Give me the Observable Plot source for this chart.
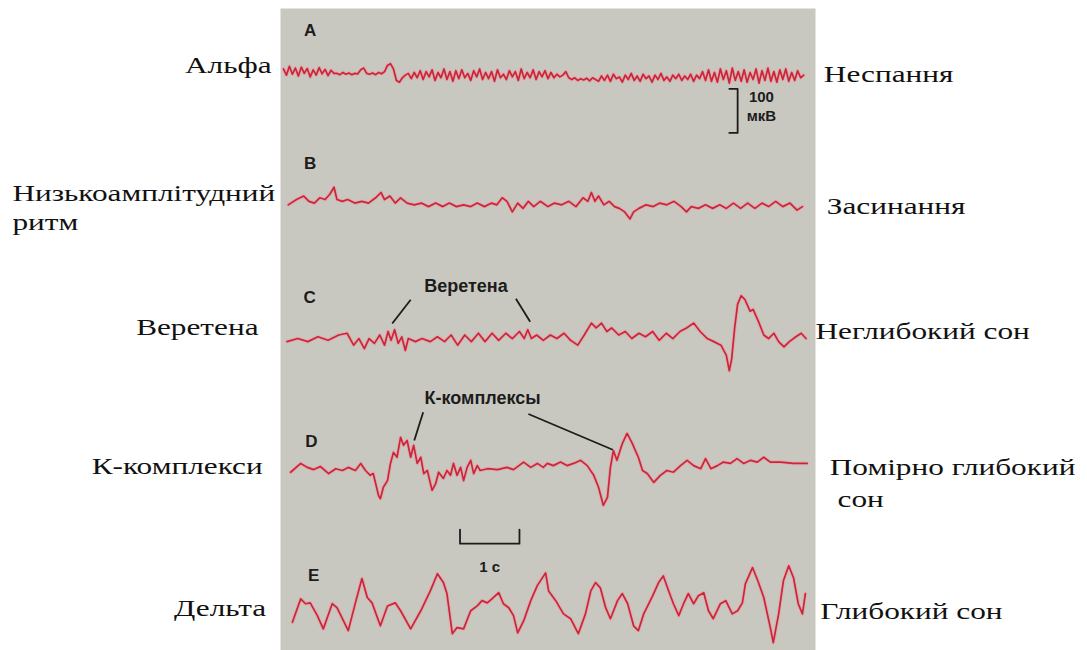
<!DOCTYPE html>
<html><head><meta charset="utf-8">
<script src="https://cdn.jsdelivr.net/npm/d3@7"></script>
<script src="https://cdn.jsdelivr.net/npm/@observablehq/plot@0.6"></script>
<style>
html,body{margin:0;padding:0;background:#fff;}
#chart svg{display:block}
</style></head><body><div id="chart"></div>
<script>
// ---- data ----
const stages = ["A", "B", "C", "D", "E"];
const leftLabels = ["Альфа", "Низькоамплітудний\nритм", "Веретена", "К-комплекси", "Дельта"];
const rightLabels = ["Неспання", "Засинання", "Неглибокий сон", "Помірно глибокий\n\u00a0сон", "Глибокий сон"];
const annotations = ["Веретена", "К-комплексы"];
const ampScaleLabel = ["100", "мкВ"];
const timeScaleLabel = "1 с";
const ampScaleUV = 100;   // µV
const timeScaleS = 1;     // s

// A: alpha rhythm, sampled every 0.05 s from t = 0.05 s (µV)
const alphaStart = 0.05, alphaStep = 0.05;
const alphaUV = [
  8,-6,14,-4,10,-8,12,-2,9,-10,6,-6,11,-3,7,-7,5,-2,
  -2,-5,0,-4,-1,-5,-2,-3,6,10,-2,-4,-1,-5,0,-3,2,
  16,20,8,-18,-22,-12,-6,
  -2,-14,0,-12,4,-16,2,-10,6,-18,0,-12,8,-16,2,-20,4,-14,6,-12,
  -2,-18,4,-10,8,-16,0,-14,2,-20,6,-12,-4,-16,4,-10,2,-18,8,-14,
  0,-12,6,-16,2,-10,4,-14,0,-12,-4,-10,
  -6,2,-12,-16,-12,-18,-14,-17,-13,-19,-12,-16,-20,
  -8,-18,-6,-20,-4,-14,-10,-22,-6,-16,-2,-18,-8,-20,-4,-14,-8,-22,-6,-16,
  -2,-18,-10,-20,-6,-14,-4,-18,-8,-16,-4,-20,-6,-14,
  2,-18,6,-20,0,-22,8,-16,4,-24,10,-18,2,-20,6,-22,0,-16,8,-24,
  4,-18,10,-20,2,-22,6,-16,8,-20,0,-18,4,-12,-6
];
// B: low-amplitude rhythm [t (s), µV]
const traceB = [[0.13,-4],[0.27,8],[0.39,16],[0.48,4],[0.57,0],[0.66,12],[0.75,8],[0.83,20],[0.90,36],[0.95,8],[1.04,4],[1.13,8],[1.25,0],[1.37,4],[1.48,0],[1.60,12],[1.69,24],[1.75,8],[1.84,16],[1.93,0],[2.02,12],[2.13,0],[2.25,-4],[2.37,0],[2.49,-8],[2.61,0],[2.73,-8],[2.84,0],[2.96,-8],[3.08,-4],[3.20,-8],[3.31,0],[3.43,-8],[3.55,0],[3.64,-4],[3.73,12],[3.81,4],[3.90,-20],[3.99,0],[4.08,-12],[4.17,4],[4.26,-8],[4.37,4],[4.50,-8],[4.61,0],[4.73,-4],[4.85,4],[4.97,-8],[5.09,12],[5.17,4],[5.23,24],[5.29,4],[5.35,16],[5.44,-4],[5.53,4],[5.62,-8],[5.70,-12],[5.79,-20],[5.88,-36],[5.94,-20],[6.03,-12],[6.15,-4],[6.27,-8],[6.38,0],[6.50,-4],[6.62,4],[6.74,-8],[6.83,-20],[6.91,-8],[7.03,-12],[7.15,-4],[7.27,-12],[7.39,-4],[7.50,-12],[7.62,0],[7.74,-12],[7.86,0],[7.98,-12],[8.10,0],[8.21,-8],[8.33,4],[8.45,-8],[8.57,0],[8.69,-16],[8.78,-8]];
// C: spindles
const traceC = [[0.11,-8],[0.29,-1],[0.46,-8],[0.63,3],[0.80,-5],[0.98,7],[1.12,11],[1.23,-16],[1.32,-1],[1.41,-24],[1.49,-1],[1.58,-12],[1.67,7],[1.75,-16],[1.81,15],[1.86,-5],[1.92,19],[1.98,-12],[2.04,3],[2.10,-28],[2.15,-1],[2.27,-8],[2.38,-1],[2.52,-8],[2.64,3],[2.76,-8],[2.87,7],[2.98,-16],[3.10,7],[3.21,-8],[3.33,11],[3.44,-8],[3.56,11],[3.67,-5],[3.79,11],[3.90,-1],[4.02,15],[4.10,-1],[4.16,19],[4.22,-1],[4.31,7],[4.42,-5],[4.54,7],[4.65,-1],[4.77,11],[4.88,-5],[5.00,-16],[5.11,7],[5.23,34],[5.31,23],[5.40,34],[5.49,15],[5.57,23],[5.69,7],[5.80,15],[5.91,-1],[6.03,11],[6.14,3],[6.26,15],[6.37,-5],[6.49,11],[6.60,-1],[6.72,15],[6.83,23],[6.95,34],[7.06,15],[7.18,-1],[7.29,-8],[7.41,-16],[7.50,-39],[7.55,-74],[7.59,-47],[7.64,23],[7.69,77],[7.75,96],[7.81,88],[7.90,61],[7.95,65],[8.04,38],[8.13,7],[8.21,-1],[8.30,11],[8.38,-8],[8.47,-20],[8.56,-8],[8.67,3],[8.76,11],[8.84,-1]];
// D: K-complexes
const traceD = [[0.17,-13],[0.34,7],[0.45,-2],[0.56,-7],[0.67,0],[0.81,-16],[0.93,-5],[1.04,-9],[1.14,-2],[1.26,-9],[1.35,7],[1.43,-9],[1.51,-20],[1.56,-16],[1.65,-66],[1.68,-73],[1.73,-47],[1.80,-32],[1.85,7],[1.90,32],[1.96,21],[2.02,66],[2.07,48],[2.13,59],[2.19,21],[2.24,48],[2.30,7],[2.36,21],[2.41,-16],[2.47,-9],[2.55,-54],[2.61,-39],[2.66,-13],[2.74,-27],[2.80,-9],[2.86,-20],[2.91,7],[2.97,-20],[3.03,-2],[3.08,-32],[3.14,-2],[3.20,14],[3.25,-16],[3.31,2],[3.36,-9],[3.48,-5],[3.65,-7],[3.81,-2],[3.92,-7],[4.09,10],[4.21,-2],[4.32,7],[4.42,-2],[4.49,7],[4.59,2],[4.71,10],[4.82,2],[4.93,7],[5.05,14],[5.16,2],[5.27,-20],[5.35,-47],[5.43,-88],[5.50,-70],[5.55,-2],[5.60,36],[5.66,14],[5.75,52],[5.83,75],[5.92,52],[5.97,36],[6.02,21],[6.09,-9],[6.17,-16],[6.28,-36],[6.39,-20],[6.50,-9],[6.61,-13],[6.73,2],[6.84,14],[6.95,2],[7.07,-5],[7.15,18],[7.24,-5],[7.35,2],[7.45,10],[7.57,7],[7.68,18],[7.79,7],[7.91,14],[8.02,10],[8.13,21],[8.24,10],[8.41,10],[8.63,7],[8.86,7]];
// E: delta waves
const traceE = [[0.20,-42],[0.34,11],[0.42,0],[0.50,2],[0.62,-27],[0.72,-57],[0.87,0],[0.95,-9],[1.06,-39],[1.14,-61],[1.26,2],[1.37,57],[1.46,14],[1.54,2],[1.68,-50],[1.80,-5],[1.93,2],[2.02,-16],[2.19,-57],[2.36,-16],[2.52,29],[2.64,68],[2.74,48],[2.80,23],[2.89,-68],[2.97,-54],[3.08,-57],[3.20,-16],[3.31,-5],[3.39,7],[3.48,2],[3.58,14],[3.67,25],[3.75,0],[3.84,-9],[3.92,-27],[3.99,-66],[4.09,-39],[4.21,7],[4.32,41],[4.46,70],[4.51,29],[4.63,7],[4.76,-23],[4.88,-34],[5.01,-68],[5.13,-23],[5.22,29],[5.30,48],[5.38,36],[5.47,-9],[5.55,-34],[5.67,7],[5.75,23],[5.84,0],[5.94,-50],[6.02,-61],[6.11,-23],[6.26,18],[6.36,48],[6.44,63],[6.53,29],[6.61,0],[6.70,-27],[6.78,0],[6.86,23],[6.95,0],[7.03,18],[7.12,25],[7.20,-16],[7.28,-34],[7.40,0],[7.49,7],[7.60,-23],[7.69,-16],[7.77,2],[7.82,45],[7.94,82],[8.03,52],[8.13,14],[8.24,-54],[8.29,-88],[8.38,-23],[8.46,52],[8.55,86],[8.63,59],[8.71,0],[8.78,-23],[8.83,23]];

// ---- layout (vertical stacking of channels in µV, label placement) ----
const rowOffset = {A: 1310, B: 1014, C: 708, D: 417, E: 106};
const traces = [];
alphaUV.forEach((v, i) => traces.push({row: "A", t: alphaStart + i * alphaStep, v: v + rowOffset.A}));
for (const [row, pts] of [["B", traceB], ["C", traceC], ["D", traceD], ["E", traceE]])
  pts.forEach(([t, v]) => traces.push({row, t, v: v + rowOffset[row]}));

const letterPos = [[0.50, 1405], [0.50, 1104], [0.49, 800], [0.52, 474], [0.56, 170]];
const letters = stages.map((s, i) => ({text: s, t: letterPos[i][0], v: letterPos[i][1]}));

const leftPos = [[-0.15, 1325], null, [-0.37, 731], [-0.30, 416], [-0.24, 96]];
const leftRows = leftLabels.map((s, i) => ({text: s, pos: leftPos[i]})).filter(d => d.pos)
  .map(d => ({text: d.text, t: d.pos[0], v: d.pos[1]}));
const leftMulti = [{text: leftLabels[1], t: -4.51, v: 1006}];
const rightPos = [[9.14, 1304], [9.19, 1005], [9.0, 722], null, [9.08, 89]];
const rightRows = rightLabels.map((s, i) => ({text: s, pos: rightPos[i]})).filter(d => d.pos)
  .map(d => ({text: d.text, t: d.pos[0], v: d.pos[1]}));
const rightMulti = [{text: rightLabels[3], t: 9.24, v: 385}];

const annText = [{text: annotations[0], t: 3.12, v: 826}, {text: annotations[1], t: 3.40, v: 572}];
const pointers = [
  {x1: 2.19, y1: 795, x2: 1.88, y2: 741},
  {x1: 3.96, y1: 797, x2: 4.20, y2: 745},
  {x1: 2.40, y1: 540, x2: 2.25, y2: 476},
  {x1: 4.17, y1: 536, x2: 5.59, y2: 455}
];
const ampBarX = 7.69, ampBarTop = 1273, tick = 0.14;
const ampBar = [
  {t: ampBarX - tick, v: ampBarTop}, {t: ampBarX, v: ampBarTop},
  {t: ampBarX, v: ampBarTop - ampScaleUV}, {t: ampBarX - tick, v: ampBarTop - ampScaleUV}
];
const timeBarX = 3.02, timeBarY = 242, tickUV = 32;
const timeBar = [
  {t: timeBarX, v: timeBarY + tickUV}, {t: timeBarX, v: timeBarY},
  {t: timeBarX + timeScaleS, v: timeBarY}, {t: timeBarX + timeScaleS, v: timeBarY + tickUV}
];
const smallTexts = [
  {text: ampScaleLabel[0], t: 8.09, v: 1253},
  {text: ampScaleLabel[1], t: 8.09, v: 1210},
  {text: timeScaleLabel, t: 3.52, v: 188}
];

const serif = "Liberation Serif";
const sans = "Liberation Sans, Arial, sans-serif";
const narrow = "Liberation Sans Narrow, Liberation Sans, Arial, sans-serif";
const ink = "#1c1c1c";
const labelSize = 23;

const chart = Plot.plot({
  width: 1087, height: 650,
  marginLeft: 280, marginRight: 272, marginTop: 8, marginBottom: 0,
  x: {domain: [0, 9], axis: null},
  y: {domain: [0, 1455], axis: null},
  style: {background: "#ffffff", overflow: "visible"},
  marks: [
    Plot.frame({fill: "#c9c8c0", stroke: "none"}),
    Plot.line(traces, {x: "t", y: "v", z: "row", stroke: "#e79aa2", strokeWidth: 3.8, strokeOpacity: 0.55}),
    Plot.line(traces, {x: "t", y: "v", z: "row", stroke: "#cc2438", strokeWidth: 1.7}),
    Plot.text(letters, {x: "t", y: "v", text: "text", fontFamily: sans, fontWeight: "bold", fontSize: 17, fill: ink}),
    Plot.text(annText, {x: "t", y: "v", text: "text", fontFamily: sans, fontWeight: "bold", fontSize: 18, fill: ink}),
    Plot.link(pointers, {x1: "x1", y1: "y1", x2: "x2", y2: "y2", stroke: ink, strokeWidth: 1.8}),
    Plot.line(ampBar, {x: "t", y: "v", stroke: ink, strokeWidth: 1.8}),
    Plot.line(timeBar, {x: "t", y: "v", stroke: ink, strokeWidth: 1.8}),
    Plot.text(smallTexts, {x: "t", y: "v", text: "text", fontFamily: narrow, fontWeight: "bold", fontSize: 15, fill: ink}),
    Plot.text(leftRows, {x: "t", y: "v", text: "text", textAnchor: "end", fontFamily: serif, fontSize: labelSize, fill: "#111"}),
    Plot.text(leftMulti, {x: "t", y: "v", text: "text", textAnchor: "start", lineHeight: 1.26, fontFamily: serif, fontSize: labelSize, fill: "#111"}),
    Plot.text(rightRows, {x: "t", y: "v", text: "text", textAnchor: "start", fontFamily: serif, fontSize: labelSize, fill: "#111"}),
    Plot.text(rightMulti, {x: "t", y: "v", text: "text", textAnchor: "start", lineHeight: 1.39, fontFamily: serif, fontSize: labelSize, fill: "#111"})
  ]
});

// horizontally widened serif labels, as in the reference scan (scale about each label's anchor)
d3.select(chart).selectAll("g").filter(function() { return this.getAttribute("font-family") === serif; })
  .selectAll("text")
  .attr("transform", function() { return (this.getAttribute("transform") || "") + " scale(1.36,1)"; });

document.getElementById("chart").appendChild(chart);
</script></body></html>
